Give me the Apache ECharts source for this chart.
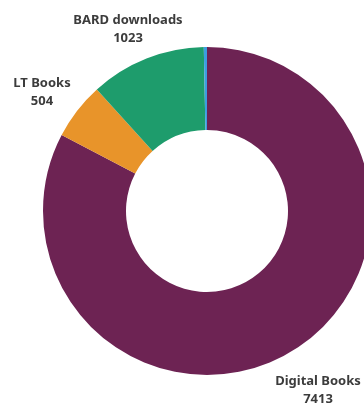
<!DOCTYPE html>
<html>
<head>
<meta charset="utf-8">
<script src="https://cdn.jsdelivr.net/npm/echarts@6/dist/echarts.min.js"></script>
<style>html,body{margin:0;padding:0;background:#fff}#c{width:364px;height:405px}</style>
</head>
<body>
<div id="c"></div>
<script>
const categories = ['Digital Books', 'LT Books', 'BARD downloads', 'Other'];
const values = [7413, 504, 1023, 28];
const showLabel = [true, true, true, false];
const colors = ['#6d2353', '#e8942a', '#1e9c6c', '#3b9ee0'];

const labelPos = [[318, 390], [42, 92], [128, 29], [0, 0]];

const txt = {fontFamily: 'Noto Sans', fontSize: 13, fontWeight: 'bold', color: '#3c3c3c',
  lineHeight: 18, width: 150, align: 'center'};

const chart = echarts.init(document.getElementById('c'), null, {renderer: 'canvas'});
chart.setOption({
  animation: false,
  series: [{
    type: 'pie',
    center: [207, 211],
    radius: [81, 164],
    startAngle: 90,
    clockwise: true,
    color: colors,
    label: {
      show: true,
      position: 'inside',
      formatter: '{t|{b}}\n{t|{c}}',
      rich: {t: txt},
      overflow: 'none'
    },
    labelLine: {show: false},
    labelLayout: function (p) {
      const pos = labelPos[p.dataIndex];
      return {x: pos[0], y: pos[1], align: 'center', verticalAlign: 'middle'};
    },
    data: categories.map((c, i) => ({
      name: c, value: values[i],
      label: {show: showLabel[i]}
    }))
  }]
});
</script>
</body>
</html>
